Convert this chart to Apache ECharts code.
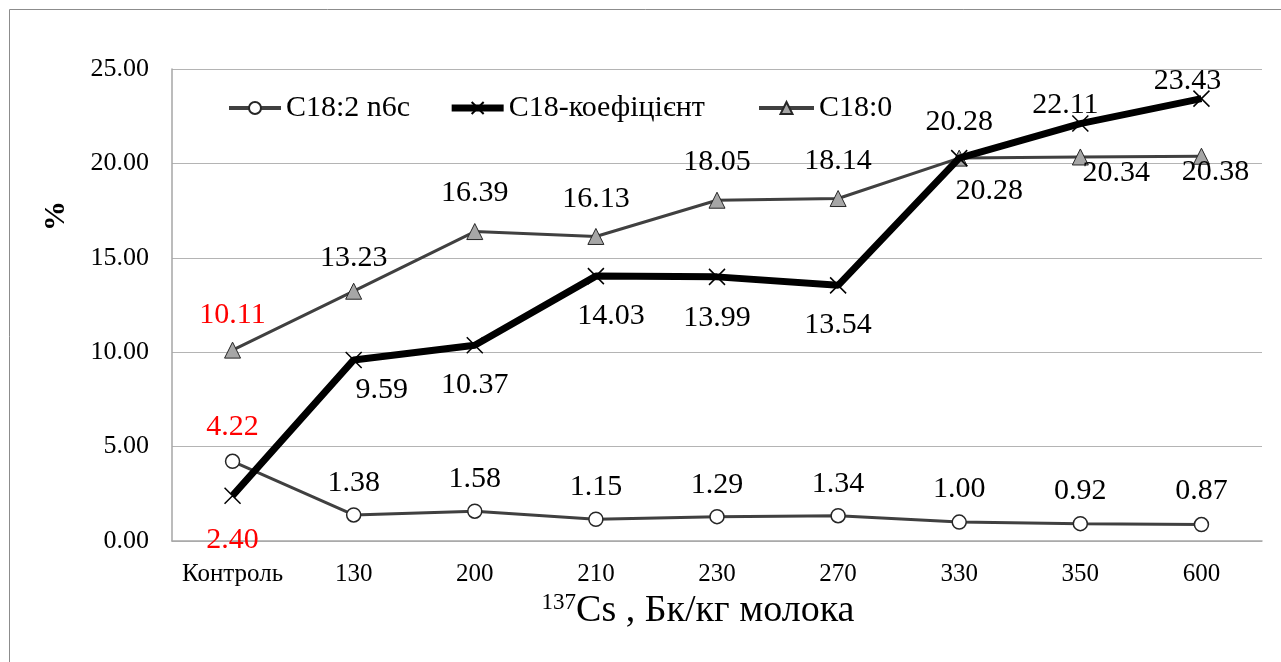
<!DOCTYPE html>
<html>
<head>
<meta charset="utf-8">
<script src="https://cdn.jsdelivr.net/npm/echarts@6/dist/echarts.min.js"></script>
<style>
  html, body { margin: 0; padding: 0; background: #fff; }
  #chart { width: 1281px; height: 662px; }
</style>
</head>
<body>
<div id="chart"></div>
<script>
// Categories: 137Cs activity in milk, Bq/kg
const categories = ['Контроль', '130', '200', '210', '230', '270', '330', '350', '600'];

// Fatty acid content, %
const c182n6c = [4.22, 1.38, 1.58, 1.15, 1.29, 1.34, 1.00, 0.92, 0.87];
const c18coef = [2.40, 9.59, 10.37, 14.03, 13.99, 13.54, 20.28, 22.11, 23.43];
const c180 = [10.11, 13.23, 16.39, 16.13, 18.05, 18.14, 20.28, 20.34, 20.38];

// Value axis ticks
const yTicks = [0, 5, 10, 15, 20, 25];

const FONT = '"Liberation Serif", "Times New Roman", serif';

// Label placement per point: [dx, dy] of the label centre from the marker
const offsets182 = [[0, -34], [0, -32], [0, -32], [0, -32], [0, -32], [0, -32], [0, -33], [0, -33], [0, -33]];
const offsetsCoef = [[0, 44], [28, 30], [0, 40], [15, 40], [0, 41], [0, 40], [30, 33], [-15, -18], [-14, -18]];
const offs180 = [[0, -35], [0, -33], [0, -38], [0, -37], [0, -38], [0, -37], [0, -36], [36, 16], [14, 16]];

function withLabels(values, offs) {
  return values.map((v, i) => ({
    value: v,
    label: {
      show: true,
      position: 'inside',
      offset: offs[i],
      color: i === 0 ? '#ff0000' : '#000000'
    }
  }));
}

const labelBase = {
  show: true,
  fontFamily: FONT,
  fontSize: 30,
  formatter: p => Number(p.value).toFixed(2)
};

const legendText = { fontFamily: FONT, fontSize: 30, color: '#000' };

const chart = echarts.init(document.getElementById('chart'), null, { renderer: 'canvas' });

chart.setOption({
  animation: false,
  backgroundColor: '#ffffff',
  textStyle: { fontFamily: FONT },
  grid: { left: 172, right: 19, top: 69, bottom: 121 },
  legend: [
    {
      left: 222,
      top: 88,
      itemWidth: 52,
      itemHeight: 15,
      itemGap: 38,
      textStyle: legendText,
      data: [
        { name: 'C18:2 n6c', lineStyle: { width: 4 } },
        { name: 'C18-коефіцієнт', lineStyle: { width: 7 } }
      ]
    },
    {
      left: 752,
      top: 88,
      itemWidth: 55,
      itemHeight: 15,
      textStyle: legendText,
      data: [{ name: 'C18:0', lineStyle: { width: 4 } }]
    }
  ],
  xAxis: {
    type: 'category',
    data: categories,
    boundaryGap: true,
    axisLine: { show: true, lineStyle: { color: '#a6a6a6', width: 1.5 } },
    axisTick: { show: false },
    axisLabel: { fontFamily: FONT, fontSize: 25, color: '#000', margin: 21, interval: 0 },
    name: '{sup|137}{main|Cs , Бк/кг молока}',
    nameLocation: 'middle',
    nameGap: 41,
    nameTextStyle: {
      padding: [0, 38, 0, 0],
      rich: {
        sup: { fontFamily: FONT, fontSize: 23, color: '#000', verticalAlign: 'top', padding: [0, 0, 16, 0] },
        main: { fontFamily: FONT, fontSize: 38, color: '#000' }
      }
    }
  },
  yAxis: {
    type: 'value',
    min: yTicks[0],
    max: yTicks[yTicks.length - 1],
    interval: 5,
    axisLine: { show: true, lineStyle: { color: '#a6a6a6', width: 1.5 } },
    axisTick: { show: false },
    splitLine: { lineStyle: { color: '#b4b4b4', width: 1.2 } },
    axisLabel: {
      fontFamily: FONT, fontSize: 26, color: '#000', margin: 23,
      formatter: v => v.toFixed(2)
    }
  },
  graphic: [
    {
      type: 'rect',
      z: -10,
      silent: true,
      shape: { x: 9.5, y: 9.5, width: 1400, height: 900 },
      style: { fill: 'none', stroke: '#8c8c8c', lineWidth: 1 }
    },
    {
      type: 'text',
      x: 56,
      y: 216,
      rotation: Math.PI / 2,
      style: {
        text: '%',
        fontFamily: FONT,
        fontSize: 30,
        fontWeight: 'bold',
        fill: '#000',
        align: 'center',
        verticalAlign: 'middle'
      }
    }
  ],
  series: [
    {
      name: 'C18:2 n6c',
      type: 'line',
      data: withLabels(c182n6c, offsets182),
      symbol: 'circle',
      symbolSize: 14,
      lineStyle: { color: '#404040', width: 3 },
      itemStyle: { color: '#ffffff', borderColor: '#262626', borderWidth: 1.5 },
      label: labelBase,
      z: 3
    },
    {
      name: 'C18:0',
      type: 'line',
      data: withLabels(c180, offs180),
      symbol: 'triangle',
      symbolSize: 16,
      lineStyle: { color: '#404040', width: 3 },
      itemStyle: { color: '#a6a6a6', borderColor: '#262626', borderWidth: 1 },
      label: labelBase,
      z: 3
    },
    {
      name: 'C18-коефіцієнт',
      type: 'line',
      data: withLabels(c18coef, offsetsCoef),
      symbol: 'path://M0,0L10,10M10,0L0,10',
      symbolSize: 16,
      lineStyle: { color: '#000000', width: 7 },
      itemStyle: { color: '#ffffff', borderColor: '#000000', borderWidth: 1.5 },
      label: labelBase,
      z: 4
    }
  ]
});
</script>
</body>
</html>
